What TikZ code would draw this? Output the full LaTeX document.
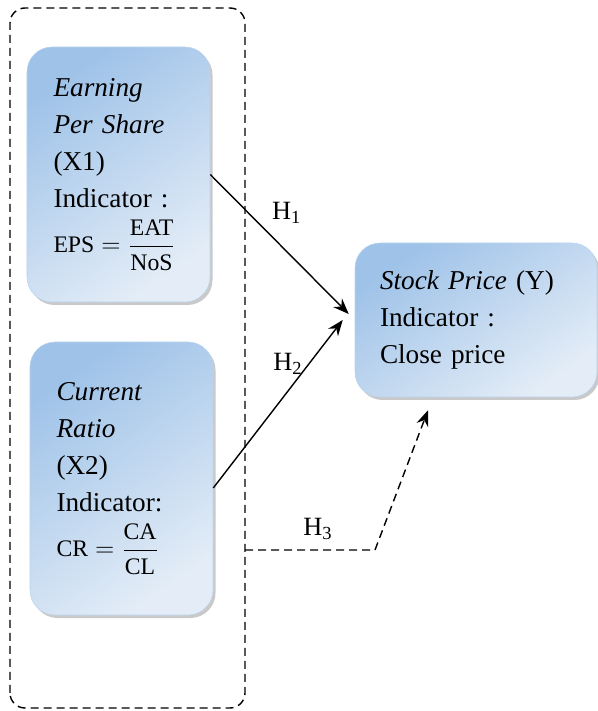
\documentclass[tikz,border=0pt]{standalone}
\usepackage{amsmath}
\usepackage{fontspec}
\setmainfont{Liberation Serif}
\usepackage{xcolor}
\usepackage{tikz}
\usetikzlibrary{arrows.meta,shadows,positioning,calc}

\definecolor{boxdark}{RGB}{158,194,232}
\definecolor{boxlight}{RGB}{228,237,247}

\newcommand{\ratiofml}[3]{\mbox{\fontsize{13.5}{16}\selectfont$\text{#1} = \dfrac{\text{#2}}{\text{#3}}$}}

\tikzset{
	varbox/.style={rounded corners=0.5cm, top color=boxdark, bottom color=boxlight, shading angle=35,
		draw=boxdark!70, line width=0.3pt, align=left, anchor=center,
		font=\fontsize{15.5}{21}\selectfont,
		drop shadow={shadow xshift=0.05cm, shadow yshift=-0.06cm, opacity=0.3, fill=black!70}},
	hyparrow/.style={-{Stealth[length=9pt,width=7pt,inset=3pt]}, thick},
	hyplabel/.style={font=\fontsize{15}{17}\selectfont}
}

\begin{document}
\begin{tikzpicture}
		\useasboundingbox (0,0) rectangle (11.94,14.22);

		\draw[thick, dash pattern=on 0.16cm off 0.1cm, rounded corners=0.3cm] (0.2,0.06) rectangle (4.9,14.06);

		\node[varbox, minimum width=3.66cm, minimum height=5.1cm, text width=2.6cm, inner xsep=0.53cm] (eps) at (2.37,10.73) {
			\textit{Earning}\\
			\textit{Per Share}\\
			(X1)\\
			Indicator :\\[5pt]
			\ratiofml{EPS}{EAT}{NoS}
		};

		\node[varbox, minimum width=3.66cm, minimum height=5.46cm, text width=2.6cm, inner xsep=0.53cm] (cr) at (2.43,4.65) {
			\textit{Current}\\
			\textit{Ratio}\\
			(X2)\\
			Indicator:\\[5pt]
			\ratiofml{CR}{CA}{CL}
		};

		\node[varbox, minimum width=4.84cm, minimum height=3.08cm, text width=3.84cm, inner xsep=0.5cm] (price) at (9.52,7.82) {
			\textit{Stock Price} (Y)\\
			Indicator :\\
			Close price
		};

		\coordinate (tip1) at ($(price.west)+(-0.12,0.12)$);
		\coordinate (tip2) at ($(price.west)+(-0.24,0.0)$);
		\coordinate (frame3) at (4.9,3.22);
		\coordinate (bend3) at (7.5,3.22);
		\coordinate (tip3) at ($(price.south)+(-0.96,-0.26)$);

		\draw[hyparrow] (eps.east) -- (tip1) node[hyplabel, pos=0.4, above right] {H\textsubscript{1}};

		\draw[hyparrow] ($(cr.east)+(0,-0.19)$) -- (tip2) node[hyplabel, pos=0.74, left] {H\textsubscript{2}};

		\draw[hyparrow, dash pattern=on 0.16cm off 0.1cm] (frame3) -- (bend3) -- (tip3);

		\node[hyplabel] (h3) at (6.36,3.64) {H\textsubscript{3}};
	\end{tikzpicture}
\end{document}
